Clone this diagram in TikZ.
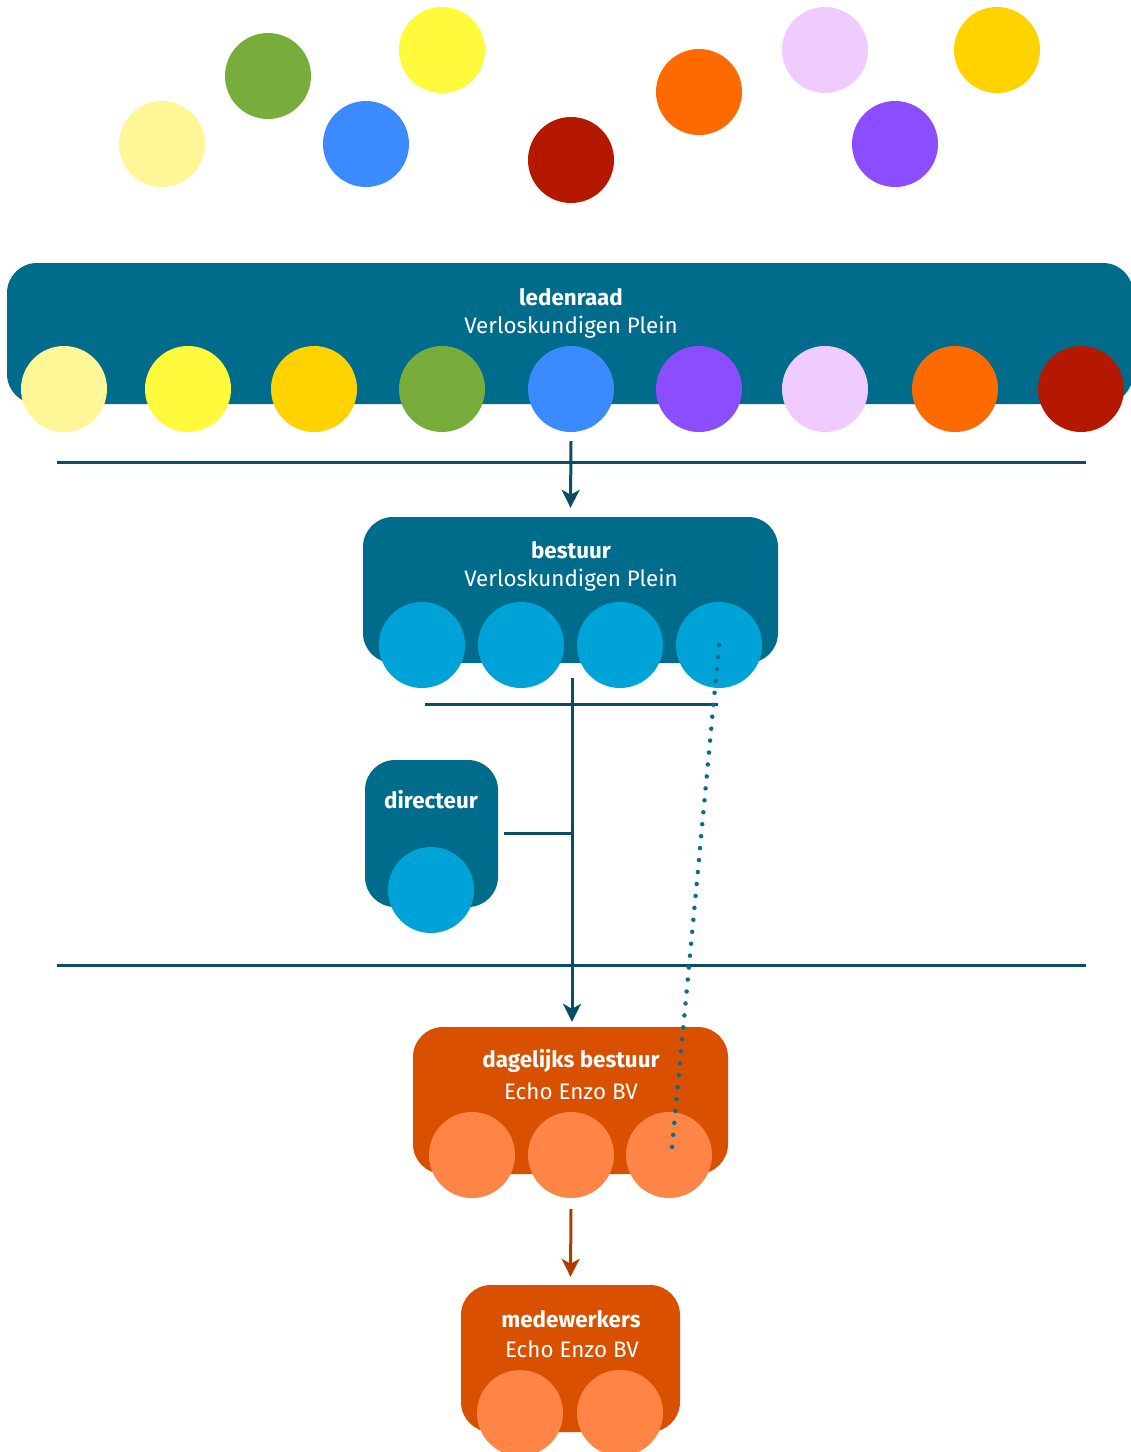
\documentclass[tikz,border=0pt]{standalone}
\usepackage{fontspec}
\setmainfont{Fira Sans}
\usetikzlibrary{positioning,calc,arrows.meta}

\definecolor{vpteal}{HTML}{006C8B}
\definecolor{vpline}{HTML}{0B4D65}
\definecolor{vpdots}{HTML}{0D6B8A}
\definecolor{vpsky}{HTML}{00A3D8}
\definecolor{eeorange}{HTML}{D95000}
\definecolor{eelight}{HTML}{FF8547}
\definecolor{eearrow}{HTML}{B23C00}
\definecolor{cpale}{HTML}{FFF797}
\definecolor{cyellow}{HTML}{FFFA3B}
\definecolor{cgold}{HTML}{FFD200}
\definecolor{cgreen}{HTML}{78AC3B}
\definecolor{cblue}{HTML}{3C8AFF}
\definecolor{cpurple}{HTML}{8A4DFF}
\definecolor{cpink}{HTML}{F0CBFF}
\definecolor{corange}{HTML}{FF6A00}
\definecolor{cred}{HTML}{B41900}

\tikzset{
  ball/.style={circle, minimum size=86pt, inner sep=0pt},
  teambox/.style={rounded corners=30pt, inner sep=0pt},
  boxtitle/.style={text=white, font=\fontsize{22.4}{26}\selectfont\bfseries},
  boxsub/.style={text=white, font=\fontsize{22.4}{26}\selectfont},
  sepline/.style={draw=vpline, line width=3pt},
  flow/.style={draw=vpline, line width=3pt, -{Stealth[length=18pt,width=18pt,inset=5pt]}},
}

\begin{document}
\begin{tikzpicture}[x=1pt, y=-1pt]
    \useasboundingbox (0,0) rectangle (1131,1452);

    % loose circles
    \foreach \i/\x/\y/\col in {
        1/162/144/cpale, 2/268/76/cgreen, 3/366/144/cblue,
        4/442/50/cyellow, 5/571/160/cred, 6/699/92/corange,
        7/825/50/cpink, 8/895/144/cpurple, 9/997/50/cgold} {
        \node [ball, fill=\col] (loose\i) at (\x,\y) {};
    }

    % ledenraad
    \node [teambox, fill=vpteal, minimum width=1126pt, minimum height=141pt] (ledenraad) at (570,333.5) {};
    \node [boxtitle] (ledenraadt) at (571,297) {ledenraad};
    \node [boxsub] (ledenraads) at (571,327) {Verloskundigen Plein};
    \foreach \i/\x/\col in {
        1/64/cpale, 2/188/cyellow, 3/314/cgold, 4/442/cgreen, 5/571/cblue,
        6/699/cpurple, 7/825/cpink, 8/955/corange, 9/1081/cred} {
        \node [ball, fill=\col] (lid\i) at (\x,389) {};
    }

    \coordinate (sepa) at (57,462);
    \coordinate (sepb) at (1086,462);
    \draw [sepline] (sepa) -- (sepb);

    % bestuur
    \node [teambox, fill=vpteal, minimum width=415pt, minimum height=146pt] (bestuur) at (570.5,590) {};
    \node [boxtitle] (bestuurt) at (571,550) {bestuur};
    \node [boxsub] (bestuurs) at (571,580) {Verloskundigen Plein};
    \foreach \i/\x in {1/422, 2/521, 3/620, 4/719} {
        \node [ball, fill=vpsky] (bst\i) at (\x,645) {};
    }

    \draw [flow] ([yshift=-9pt]lid5.south) -- ([yshift=9pt]bestuur.north);

    \coordinate (bsta) at (425,704);
    \coordinate (bstb) at (718,704);
    \draw [sepline] (bsta) -- (bstb);

    % directeur
    \node [teambox, fill=vpteal, minimum width=133pt, minimum height=147pt] (directeur) at (431.5,833.5) {};
    \node [boxtitle] (directeurt) at (431,800) {directeur};
    \node [ball, fill=vpsky] (dir1) at (431,890) {};

    \coordinate (sepc) at (57,965);
    \coordinate (sepd) at (1086,965);
    \draw [sepline] (sepc) -- (sepd);

    % dagelijks bestuur
    \node [teambox, fill=eeorange, minimum width=315pt, minimum height=147pt] (dagelijks) at (570.5,1100.5) {};
    \node [boxtitle] (dagelijkst) at (571,1061) {dagelijks bestuur};
    \node [boxsub] (dagelijkss) at (571,1091) {Echo Enzo BV};
    \foreach \i/\x in {1/472, 2/571, 3/669} {
        \node [ball, fill=eelight] (dgb\i) at (\x,1155) {};
    }

    \coordinate (stem) at (572,678);
    \draw [flow] (stem) -- ([xshift=1.5pt,yshift=5pt]dagelijks.north);
    \draw [sepline] ([xshift=6pt]directeur.east) -- (directeur.east -| stem);

    \draw [draw=vpdots, line width=4.5pt, line cap=round, dash pattern=on 0pt off 12pt]
        (bst4.center) -- ([xshift=3pt,yshift=7pt]dgb3.center);

    % medewerkers
    \node [teambox, fill=eeorange, minimum width=219pt, minimum height=147pt] (medewerkers) at (570.5,1358.5) {};
    \node [boxtitle] (medewerkerst) at (571,1319) {medewerkers};
    \node [boxsub] (medewerkerss) at (572,1349) {Echo Enzo BV};
    \foreach \i/\x in {1/520, 2/620} {
        \node [ball, fill=eelight] (mdw\i) at (\x,1413) {};
    }

    \draw [flow, draw=eearrow] ([yshift=-11pt]dgb2.south) -- ([yshift=8pt]medewerkers.north);
\end{tikzpicture}
\end{document}
